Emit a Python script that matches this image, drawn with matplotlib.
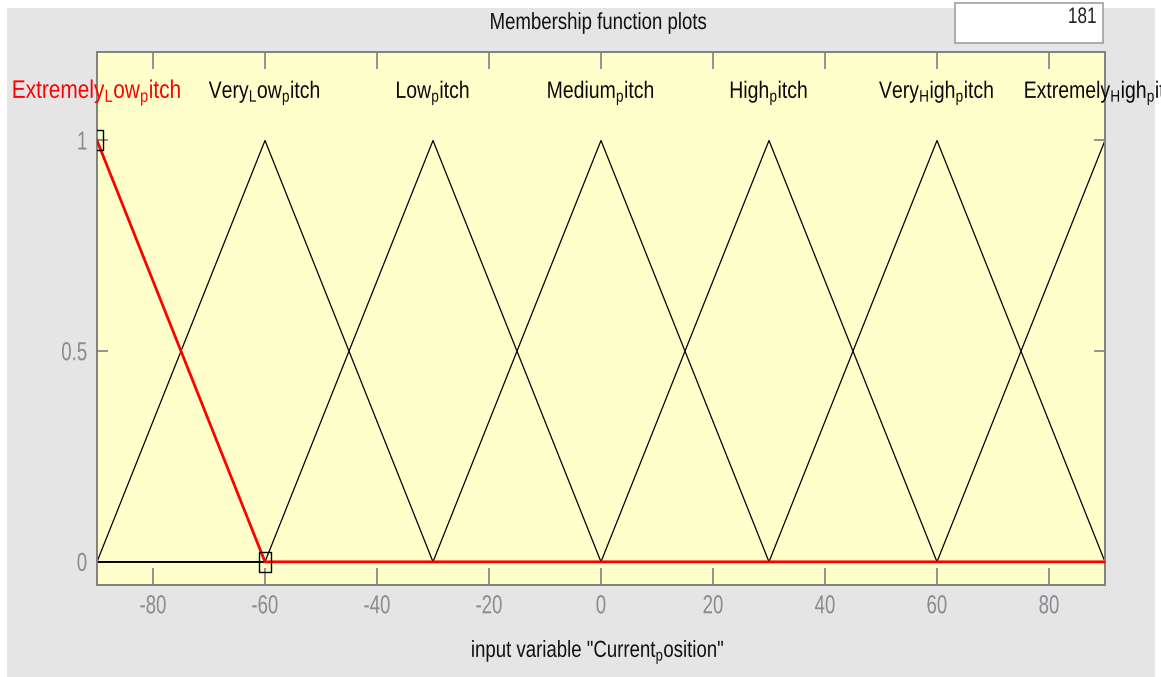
import numpy as np
import matplotlib
matplotlib.use("Agg")
import matplotlib.pyplot as plt
from matplotlib.patches import Rectangle
from matplotlib.patheffects import AbstractPathEffect
from matplotlib.transforms import Affine2D

plt.rcParams['font.family'] = ['Liberation Sans', 'DejaVu Sans']
plt.rcParams['mathtext.default'] = 'regular'
plt.rcParams['axes.unicode_minus'] = False

# membership functions of the input variable (trimf parameters a, b, c)
mf_names = ["Extremely_Low_pitch", "Very_Low_pitch", "Low_pitch", "Medium_pitch",
            "High_pitch", "Very_High_pitch", "Extremely_High_pitch"]
mf_labels = ["Extremely$_L$ow$_p$itch", "Very$_L$ow$_p$itch", "Low$_p$itch", "Medium$_p$itch",
             "High$_p$itch", "Very$_H$igh$_p$itch", "Extremely$_H$igh$_p$itch"]
mf_params = [[-120, -90, -60], [-90, -60, -30], [-60, -30, 0], [-30, 0, 30],
             [0, 30, 60], [30, 60, 90], [60, 90, 120]]
selected = 0
x_range = [-90, 90]
n_points = 181
x_ticks = [-80, -60, -40, -20, 0, 20, 40, 60, 80]
y_ticks = [0, 0.5, 1]
y_ticklabels = ['0', '0.5', '1']


class VStretch(AbstractPathEffect):
    """Stretch glyphs vertically, about the baseline or the glyph centre."""

    def __init__(self, sy, about='baseline'):
        super().__init__()
        self.sy = sy
        self.about = about

    def draw_path(self, renderer, gc, tpath, affine, rgbFace=None):
        if self.about == 'center':
            ext = tpath.get_extents(affine)
            cy = 0.5 * (ext.y0 + ext.y1)
        else:
            cy = affine.transform((0, 0))[1]
        aff = affine + Affine2D().translate(0, -cy).scale(1, self.sy).translate(0, cy)
        renderer.draw_path(gc, tpath, aff, rgbFace)


def trimf(x, a, b, c):
    left = (x - a) / (b - a)
    right = (c - x) / (c - b)
    return np.maximum(np.minimum(left, right), 0)


W, H = 1161, 677
fig = plt.figure(figsize=(W / 100, H / 100), dpi=100, facecolor='white')

# grey panel behind everything
panel = Rectangle((7 / W, 0), 1148 / W, 669 / H, transform=fig.transFigure,
                  facecolor='#e5e5e5', edgecolor='none', zorder=-10)
fig.patches.append(panel)

# small white box with the point count
box = Rectangle((955 / W, (H - 43) / H), 148 / W, 40 / H, transform=fig.transFigure,
                facecolor='white', edgecolor='#a0a0a0', linewidth=1.2, zorder=-5)
fig.patches.append(box)
t = fig.text(1097 / W, (H - 23) / H, str(n_points), ha='right', va='baseline',
             fontsize=12.4, color='#222222', path_effects=[VStretch(1.3)])
t.set_clip_path(box)

fig.text(598 / W, (H - 29) / H, "Membership function plots", ha='center', va='baseline',
         fontsize=13.4, color='#111111', path_effects=[VStretch(1.25)])

ax = fig.add_axes([97 / W, (H - 585) / H, 1008 / W, 533 / H])
ax.set_facecolor('#ffffcc')

x = np.linspace(x_range[0], x_range[1], n_points)
for i, (a, b, c) in enumerate(mf_params):
    if i == selected:
        continue
    ax.plot(x, trimf(x, a, b, c), color='black', linewidth=0.9, zorder=2)

a, b, c = mf_params[selected]
ax.plot(x, trimf(x, a, b, c), color='#ff0000', linewidth=2.0, zorder=3)
ax.plot([b, c], [1, 0], linestyle='none', zorder=4,
        marker=[(-1, -1.7), (1, -1.7), (1, 1.7), (-1, 1.7), (-1, -1.7)],
        markersize=14, markerfacecolor='none', markeredgecolor='black', markeredgewidth=1.0)

# labels sit above each peak
label_y = (585 - 98) / 533 * 1.265 - 0.055
for i, (lab, p) in enumerate(zip(mf_labels, mf_params)):
    size = 15 if i == selected else 14
    txt = ax.text(p[1], label_y, lab, ha='center', va='baseline', fontsize=size,
                  color='#ff0000' if i == selected else '#0a0a0a',
                  path_effects=[VStretch(1.22)])
    txt.set_clip_path(panel)

ax.set_xlim(x_range)
ax.set_ylim(-0.055, 1.21)
ax.set_xticks(x_ticks)
ax.set_yticks(y_ticks)
ax.set_yticklabels(y_ticklabels)
ax.tick_params(axis='x', direction='in', length=12, width=1.2, color='#808080',
               top=True, labelsize=13.4, labelcolor='#8a8a90', pad=11)
ax.tick_params(axis='y', direction='in', length=8, width=1.2, color='#808080',
               right=True, labelsize=13.4, labelcolor='#8a8a90', pad=7)
for lab in ax.get_xticklabels():
    lab.set_path_effects([VStretch(1.4)])
for lab in ax.get_yticklabels():
    lab.set_path_effects([VStretch(1.4, about='center')])
for s in ax.spines.values():
    s.set_color('#808080')
    s.set_linewidth(1.4)

fig.text(598 / W, (H - 657) / H, 'input variable "Current$_p$osition"', ha='center',
         va='baseline', fontsize=13.4, color='#111111', path_effects=[VStretch(1.25)])

fig.savefig("out.png", dpi=100, facecolor='white')
